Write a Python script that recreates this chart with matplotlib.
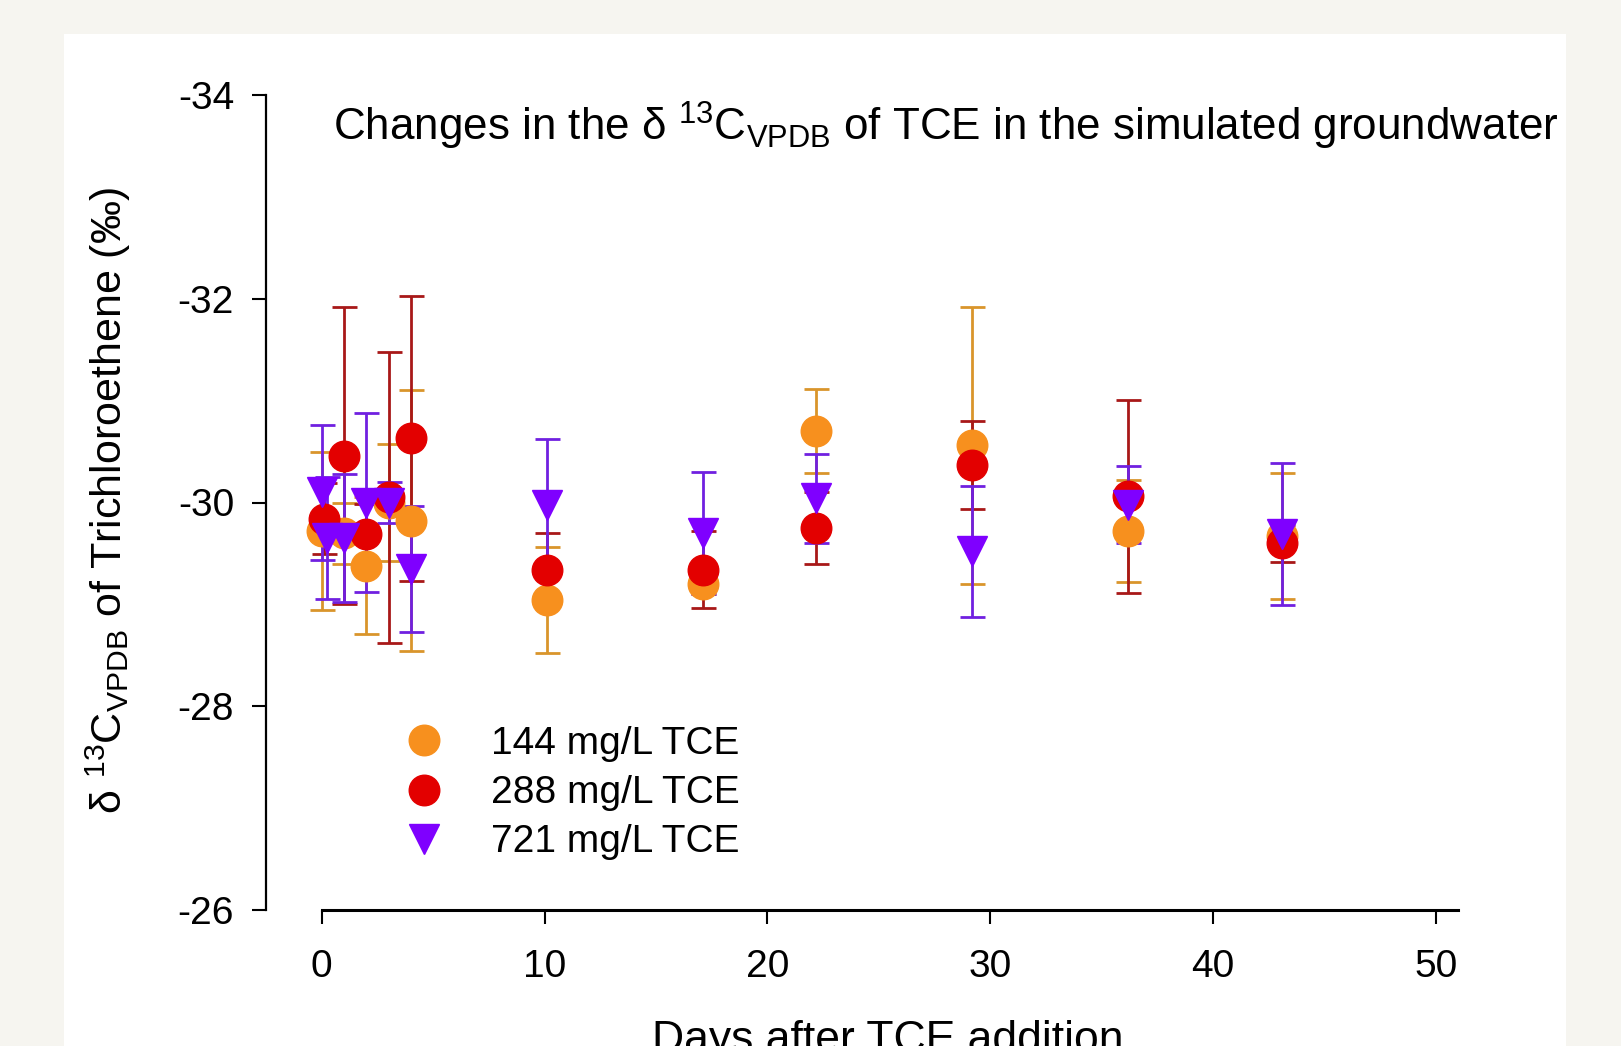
import matplotlib
matplotlib.use('Agg')
import matplotlib.pyplot as plt
from matplotlib.lines import Line2D
from matplotlib.patches import Rectangle

plt.rcParams['font.family'] = ['Liberation Sans', 'DejaVu Sans']
plt.rcParams['mathtext.fontset'] = 'custom'
plt.rcParams['mathtext.rm'] = 'Liberation Sans'
plt.rcParams['mathtext.default'] = 'regular'

#data (days, delta 13C, +/- error)
days144 = [0, 1, 2, 3, 4, 10.1, 17.1, 22.2, 29.2, 36.2, 43.1]
d144 = [-29.72, -29.70, -29.38, -30.00, -29.82, -29.04, -29.20, -30.70, -30.56, -29.72, -29.67]
e144 = [0.78, 0.30, 0.67, 0.57, 1.28, 0.52, 0.10, 0.41, 1.36, 0.50, 0.62]

days288 = [0.1, 1, 2, 3, 4, 10.1, 17.1, 22.2, 29.2, 36.2, 43.1]
d288 = [-29.84, -30.46, -29.69, -30.05, -30.63, -29.34, -29.34, -29.75, -30.37, -30.06, -29.60]
e288 = [0.35, 1.46, 0.30, 1.43, 1.40, 0.36, 0.38, 0.35, 0.43, 0.95, 0.18]

days721 = [0, 0.25, 1, 2, 3, 4, 10.1, 17.1, 22.2, 29.2, 36.2, 43.1]
d721 = [-30.10, -29.65, -29.65, -30.00, -30.00, -29.35, -29.98, -29.70, -30.04, -29.52, -29.98, -29.69]
e721 = [0.66, 0.60, 0.63, 0.88, 0.20, 0.62, 0.64, 0.60, 0.44, 0.64, 0.38, 0.70]

labels = ['144 mg/L TCE', '288 mg/L TCE', '721 mg/L TCE']

W, H = 1621, 1046
fig = plt.figure(figsize=(W/100, H/100), dpi=100, facecolor='#f6f5f0')
#white panel behind everything
fig.patches.append(Rectangle((64/W, 0), (1566-64)/W, 1-34/H, transform=fig.transFigure,
                             facecolor='white', edgecolor='none', zorder=-10))

ax = fig.add_axes([266/W, 136/H, (1458-266)/W, (910-95)/H])
ax.set_facecolor('none')

ax.errorbar(days144, d144, yerr=e144, fmt='o', ms=22, color='#f7901e', ecolor='#d9952b',
            elinewidth=2, capsize=9, capthick=2, mec='#f7901e')
ax.errorbar(days288, d288, yerr=e288, fmt='o', ms=22, color='#e30000', ecolor='#a81818',
            elinewidth=2, capsize=9, capthick=2, mec='#e30000')
ax.errorbar(days721, d721, yerr=e721, fmt='v', ms=22, color='#7f00ff', ecolor='#7020e0',
            elinewidth=2, capsize=9, capthick=2, mec='#7f00ff')

ax.set_xlim(-2.5, 51)
ax.set_ylim(-26, -34)
ax.set_xticks([0, 10, 20, 30, 40, 50])
ax.set_yticks([-34, -32, -30, -28, -26])
ax.set_yticklabels(['-34', '-32', '-30', '-28', '-26'])
ax.spines['top'].set_visible(False)
ax.spines['right'].set_visible(False)
ax.spines['bottom'].set_bounds(0, 51)
ax.spines['bottom'].set_linewidth(2.2)
ax.spines['left'].set_linewidth(1.6)
ax.tick_params(axis='both', direction='out', length=10, width=1.5, labelsize=28)
ax.tick_params(axis='x', pad=18)
ax.tick_params(axis='y', pad=13)

#title inside the panel
fig.text(333/W, 1-141/H,
         'Changes in the δ $^{13}$C$_{VPDB}$ of TCE in the simulated groundwater',
         fontsize=31.7, ha='left', va='baseline')
fig.text(108/W, 0.521, 'δ $^{13}$C$_{VPDB}$ of Trichloroethene (‰)',
         fontsize=31, rotation=90, ha='center', va='center')
fig.text(888/W, 0.005, 'Days after TCE addition', fontsize=32, ha='center', va='center')

handles = [Line2D([], [], ls='none', marker='o', ms=22, color='#f7901e'),
           Line2D([], [], ls='none', marker='o', ms=22, color='#e30000'),
           Line2D([], [], ls='none', marker='v', ms=22, color='#7f00ff')]
fig.legend(handles, labels, loc='upper left', bbox_to_anchor=(405/W, 1-726/H),
           frameon=False, fontsize=28, numpoints=1, handlelength=1.0,
           handletextpad=1.2, labelspacing=0.34, borderpad=0, borderaxespad=0)

fig.savefig('out.png', dpi=100, facecolor=fig.get_facecolor())
